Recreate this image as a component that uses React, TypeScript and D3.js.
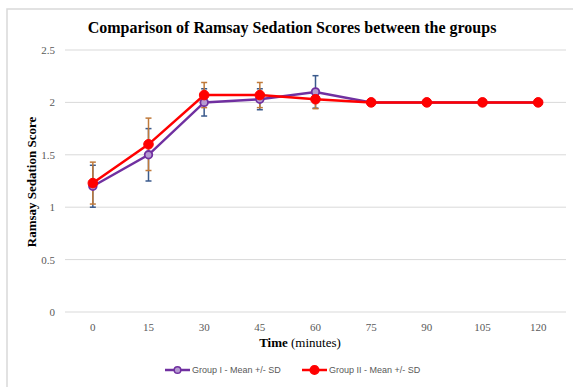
import React from "react";
import * as d3 from "d3";

const categories = ["0", "15", "30", "45", "60", "75", "90", "105", "120"];
const group1Mean = [1.2, 1.5, 2.0, 2.03, 2.1, 2.0, 2.0, 2.0, 2.0];
const group1SD = [0.2, 0.25, 0.13, 0.1, 0.155, 0, 0, 0, 0];
const group2Mean = [1.23, 1.6, 2.07, 2.07, 2.03, 2.0, 2.0, 2.0, 2.0];
const group2SD = [0.2, 0.25, 0.12, 0.12, 0.09, 0, 0, 0, 0];
const yTicks = [0, 0.5, 1, 1.5, 2, 2.5];
const seriesNames = ["Group I - Mean +/- SD", "Group II - Mean +/- SD"];

const W = 573;
const H = 387;
const left = 65;
const right = 566;
const top = 50;
const bottom = 312;

export default function App() {
  const x = d3.scaleBand<string>().domain(categories).range([left, right]);
  const y = d3.scaleLinear().domain([0, 2.5]).range([bottom, top]);
  const cx = (c: string) => (x(c) as number) + x.bandwidth() / 2;
  const line = d3
    .line<number>()
    .x((_, i) => cx(categories[i]))
    .y((d) => y(d));

  const series = [
    { mean: group1Mean, sd: group1SD, color: "#7030A0", err: "#3A5A8C", fill: "#B59BD0" },
    { mean: group2Mean, sd: group2SD, color: "#FF0000", err: "#C07A3A", fill: "#FF0000" },
  ];

  const serif = "'Liberation Serif', 'Times New Roman', serif";
  const sans = "'Liberation Sans', Arial, sans-serif";

  return (
    <svg
      width={W}
      height={H}
      style={{ position: "absolute", left: 0, top: 0, background: "#fff" }}
    >
      <rect x={7} y={9} width={620} height={420} fill="#fff" stroke="#D9D9D9" strokeWidth={1.5} />
      <text x={292} y={33} textAnchor="middle" fontFamily={serif} fontWeight="bold" fontSize={16} fill="#000">
        Comparison of Ramsay Sedation Scores between the groups
      </text>
      {yTicks.map((t) => (
        <g key={t}>
          <line x1={left} x2={right} y1={y(t)} y2={y(t)} stroke="#D9D9D9" strokeWidth={1} />
          <text x={55} y={y(t) + 4} textAnchor="end" fontFamily={serif} fontSize={11} fill="#595959">
            {t}
          </text>
        </g>
      ))}
      {categories.map((c) => (
        <text key={c} x={cx(c)} y={331} textAnchor="middle" fontFamily={serif} fontSize={11} fill="#595959">
          {c}
        </text>
      ))}
      <text
        transform={`translate(36, 182) rotate(-90)`}
        textAnchor="middle"
        fontFamily={serif}
        fontWeight="bold"
        fontSize={13}
        fill="#000"
      >
        Ramsay Sedation Score
      </text>
      <text x={300} y={347} textAnchor="middle" fontFamily={serif} fontSize={13} fill="#000">
        <tspan fontWeight="bold">Time</tspan> (minutes)
      </text>
      {series.map((s, si) => (
        <g key={si}>
          {s.mean.map((m, i) =>
            s.sd[i] > 0 ? (
              <g key={i} stroke={s.err} strokeWidth={1.5}>
                <line x1={cx(categories[i])} x2={cx(categories[i])} y1={y(m - s.sd[i])} y2={y(m + s.sd[i])} />
                <line x1={cx(categories[i]) - 3} x2={cx(categories[i]) + 3} y1={y(m - s.sd[i])} y2={y(m - s.sd[i])} />
                <line x1={cx(categories[i]) - 3} x2={cx(categories[i]) + 3} y1={y(m + s.sd[i])} y2={y(m + s.sd[i])} />
              </g>
            ) : null
          )}
        </g>
      ))}
      {series.map((s, si) => (
        <g key={si}>
          <path d={line(s.mean) || ""} fill="none" stroke={s.color} strokeWidth={2.5} />
          {s.mean.map((m, i) => (
            <circle
              key={i}
              cx={cx(categories[i])}
              cy={y(m)}
              r={si === 0 ? 3.8 : 4.8}
              fill={s.fill}
              stroke={s.color}
              strokeWidth={si === 0 ? 1.8 : 1}
            />
          ))}
        </g>
      ))}
      {series.map((s, si) => {
        const lx = si === 0 ? 165 : 302;
        return (
          <g key={si}>
            <line x1={lx} x2={lx + 25} y1={370} y2={370} stroke={s.color} strokeWidth={2.5} />
            <circle cx={lx + 12.5} cy={370} r={si === 0 ? 3.3 : 4.3} fill={s.fill} stroke={s.color} strokeWidth={1.5} />
            <text x={lx + 27} y={373} fontFamily={sans} fontSize={9} fill="#595959">
              {seriesNames[si]}
            </text>
          </g>
        );
      })}
    </svg>
  );
}
